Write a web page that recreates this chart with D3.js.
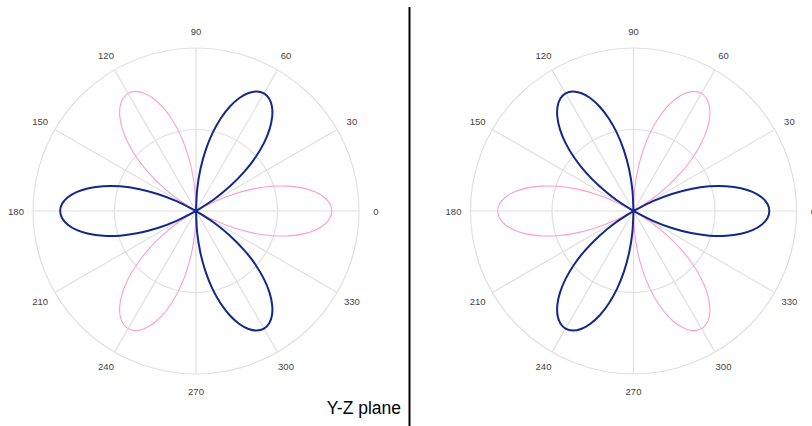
<!DOCTYPE html>
<html>
<head>
<meta charset="utf-8">
<script src="https://cdn.jsdelivr.net/npm/d3@7"></script>
<style>
  html, body { margin: 0; padding: 0; background: #fff; }
  svg { display: block; }
</style>
</head>
<body>
<svg id="chart" width="812" height="426"></svg>
<script>
// ---- data ----
const angleTicks = [0, 30, 60, 90, 120, 150, 180, 210, 240, 270, 300, 330];
const radialGrid = [0.6, 1.2];
const radialMax = 1.2;

// sample angles in degrees, 0..357 step 3
const angles = [
  0,3,6,9,12,15,18,21,24,27,30,33,36,39,42,45,48,51,54,57,
  60,63,66,69,72,75,78,81,84,87,90,93,96,99,102,105,108,111,114,117,
  120,123,126,129,132,135,138,141,144,147,150,153,156,159,162,165,168,171,174,177,
  180,183,186,189,192,195,198,201,204,207,210,213,216,219,222,225,228,231,234,237,
  240,243,246,249,252,255,258,261,264,267,270,273,276,279,282,285,288,291,294,297,
  300,303,306,309,312,315,318,321,324,327,330,333,336,339,342,345,348,351,354,357
];

// petals pointing to 0, 120, 240
const petalsA = [
  1,.988,.951,.891,.809,.707,.588,.454,.309,.156,0,0,0,0,0,0,0,0,0,0,
  0,0,0,0,0,0,0,0,0,0,0,.156,.309,.454,.588,.707,.809,.891,.951,.988,
  1,.988,.951,.891,.809,.707,.588,.454,.309,.156,0,0,0,0,0,0,0,0,0,0,
  0,0,0,0,0,0,0,0,0,0,0,.156,.309,.454,.588,.707,.809,.891,.951,.988,
  1,.988,.951,.891,.809,.707,.588,.454,.309,.156,0,0,0,0,0,0,0,0,0,0,
  0,0,0,0,0,0,0,0,0,0,0,.156,.309,.454,.588,.707,.809,.891,.951,.988
];

// petals pointing to 60, 180, 300
const petalsB = [
  0,0,0,0,0,0,0,0,0,0,0,.156,.309,.454,.588,.707,.809,.891,.951,.988,
  1,.988,.951,.891,.809,.707,.588,.454,.309,.156,0,0,0,0,0,0,0,0,0,0,
  0,0,0,0,0,0,0,0,0,0,0,.156,.309,.454,.588,.707,.809,.891,.951,.988,
  1,.988,.951,.891,.809,.707,.588,.454,.309,.156,0,0,0,0,0,0,0,0,0,0,
  0,0,0,0,0,0,0,0,0,0,0,.156,.309,.454,.588,.707,.809,.891,.951,.988,
  1,.988,.951,.891,.809,.707,.588,.454,.309,.156,0,0,0,0,0,0,0,0,0,0
];

const leftPink = petalsA, leftBlue = petalsB;
const rightPink = petalsB, rightBlue = petalsA;
const caption = "Y-Z plane";

// ---- drawing ----
const PINK = "#ff9ccb", BLUE = "#12288c", GRID = "#e0e0e0";
const svg = d3.select("#chart");
const R = 163;

function polar(cx, cy, pink, blue) {
  const g = svg.append("g").attr("transform", `translate(${cx},${cy})`);
  const r = d3.scaleLinear().domain([0, radialMax]).range([0, R]);
  // angle scale: degrees -> radians (d3.lineRadial measures clockwise from 12 o'clock)
  const a = d3.scaleLinear().domain([0, 360]).range([Math.PI / 2, Math.PI / 2 - 2 * Math.PI]);

  g.selectAll("circle.grid").data(radialGrid).enter().append("circle")
    .attr("r", d => r(d)).attr("fill", "none")
    .attr("stroke", GRID).attr("stroke-width", 1.2);

  g.selectAll("line.spoke").data(angleTicks).enter().append("line")
    .attr("x1", 0).attr("y1", 0)
    .attr("x2", d => R * Math.sin(a(d)))
    .attr("y2", d => -R * Math.cos(a(d)))
    .attr("stroke", GRID).attr("stroke-width", 1.2);

  g.selectAll("text.tick").data(angleTicks).enter().append("text")
    .attr("x", d => (R + 17) * Math.sin(a(d)))
    .attr("y", d => -(R + 17) * Math.cos(a(d)))
    .attr("text-anchor", "middle").attr("dominant-baseline", "central")
    .attr("font-family", "Liberation Sans, Arial, Helvetica, sans-serif")
    .attr("font-size", 9.5).attr("fill", "#444")
    .text(d => d);

  const line = d3.lineRadial()
    .angle((d, i) => a(angles[i]))
    .radius(d => r(d))
    .curve(d3.curveCardinalClosed.tension(0.2));

  g.append("path").datum(pink).attr("d", line)
    .attr("fill", "none").attr("stroke", PINK).attr("stroke-width", 1.1);
  g.append("path").datum(blue).attr("d", line)
    .attr("fill", "none").attr("stroke", BLUE).attr("stroke-width", 2)
    .attr("stroke-linejoin", "round");
}

polar(196, 211, leftPink, leftBlue);
polar(633.5, 211, rightPink, rightBlue);

svg.append("line").attr("x1", 409.5).attr("x2", 409.5).attr("y1", 7).attr("y2", 426)
  .attr("stroke", "#000").attr("stroke-width", 2);

svg.append("text").attr("x", 401).attr("y", 413.5).attr("text-anchor", "end")
  .attr("font-family", "Liberation Sans, Arial, Helvetica, sans-serif")
  .attr("font-size", 17.5).attr("fill", "#000").text(caption);
</script>
</body>
</html>
